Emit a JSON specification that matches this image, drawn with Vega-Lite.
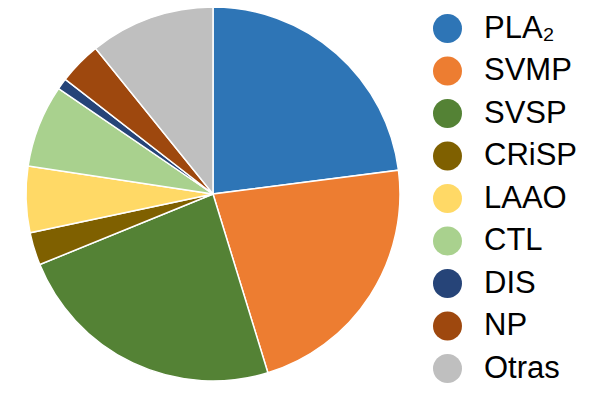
{
  "$schema": "https://vega.github.io/schema/vega-lite/v6.json",
  "width": 374,
  "height": 374,
  "autosize": {"type": "none"},
  "padding": {"left": 26, "top": 7, "right": 200, "bottom": 21},
  "background": "white",
  "config": {"view": {"stroke": null}, "font": "Liberation Sans"},
  "data": {
    "values": [
      {"category": "PLA₂", "value": 22.96, "order": 1},
      {"category": "SVMP", "value": 22.29, "order": 2},
      {"category": "SVSP", "value": 23.58, "order": 3},
      {"category": "CRiSP", "value": 2.83, "order": 4},
      {"category": "LAAO", "value": 5.72, "order": 5},
      {"category": "CTL", "value": 7.14, "order": 6},
      {"category": "DIS", "value": 0.97, "order": 7},
      {"category": "NP", "value": 3.69, "order": 8},
      {"category": "Otras", "value": 10.8, "order": 9}
    ]
  },
  "mark": {"type": "arc", "stroke": "white", "strokeWidth": 1.5},
  "encoding": {
    "theta": {"field": "value", "type": "quantitative", "stack": true},
    "order": {"field": "order", "type": "quantitative"},
    "color": {
      "field": "category",
      "type": "nominal",
      "scale": {
        "domain": ["PLA₂", "SVMP", "SVSP", "CRiSP", "LAAO", "CTL", "DIS", "NP", "Otras"],
        "range": ["#2E75B6", "#ED7D31", "#548235", "#7F6000", "#FFD966", "#A9D18E", "#264478", "#9E480E", "#BFBFBF"]
      },
      "legend": {
        "title": null,
        "orient": "none",
        "legendX": 406,
        "legendY": 6,
        "padding": 0,
        "offset": 0,
        "symbolType": "circle",
        "symbolSize": 841,
        "symbolStrokeWidth": 0,
        "symbolOffset": 0,
        "labelFontSize": 31,
        "labelFont": "Liberation Sans",
        "labelColor": "black",
        "labelOffset": 21,
        "labelLimit": 200,
        "rowPadding": 10.5
      }
    }
  }
}
